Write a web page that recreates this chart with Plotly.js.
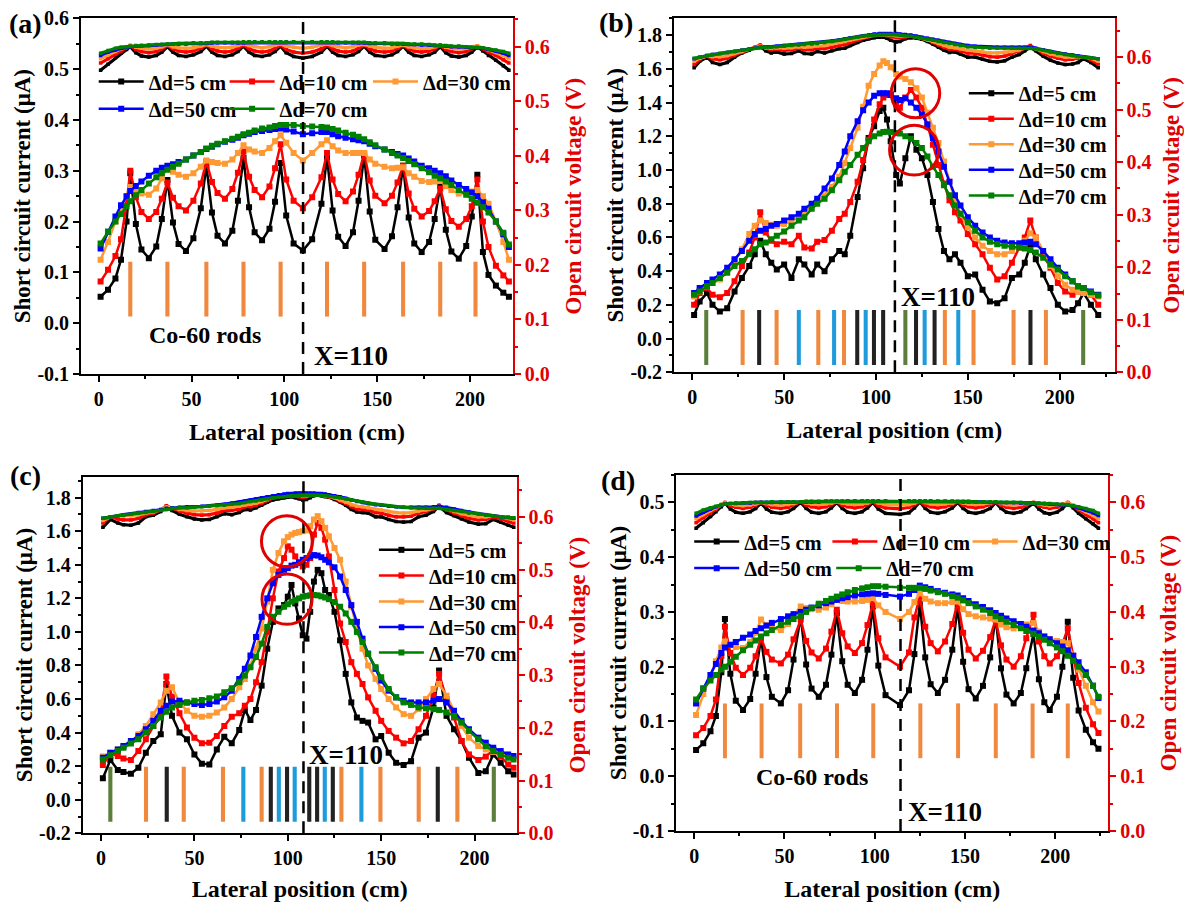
<!DOCTYPE html>
<html><head><meta charset="utf-8">
<script src="https://cdn.plot.ly/plotly-3.0.1.min.js"></script>
<style>html,body{margin:0;padding:0;background:#fff}#chart{width:1184px;height:902px}</style>
</head><body><div id="chart"></div>
<script>
const seriesNames = ['Δd=5 cm','Δd=10 cm','Δd=30 cm','Δd=50 cm','Δd=70 cm'];
const seriesColors = ['#000000','#ff0000','#ff9933','#0000ff','#008000'];
const rodColorMap = {o:'#f0883e', k:'#222222', b:'#1e9bdb', g:'#5b7f3b'};
const xTickVals = [0,50,100,150,200];
const xTickText = ['0','50','100','150','200'];
const yTicksA = [-0.1,0,0.1,0.2,0.3,0.4,0.5,0.6];
const yTicksB = [-0.2,0,0.2,0.4,0.6,0.8,1.0,1.2,1.4,1.6,1.8];
const yTicksR = [0,0.1,0.2,0.3,0.4,0.5,0.6];
const markerX = [110.1, 110.3, 108.4, 114.3];

// ---------- Panel (a) ----------
const xA = [1,5,9,12,15, 17,20,23,27,31,34, 37,40,43,47,51,55, 58,61,64,68,72,75, 78,81,84,88,92,95, 98,101,105,110,115,120, 123,126,129,133,137,140, 143,146,149,154,158,161, 164,167,170,174,178,181, 184,187,190,194,198,201, 204,207,210,214,218,221];
const iscA_5 = [0.052,0.066,0.088,0.125,0.2, 0.295,0.195,0.145,0.128,0.151,0.205, 0.282,0.198,0.156,0.142,0.167,0.226, 0.31,0.218,0.172,0.157,0.182,0.241, 0.325,0.228,0.179,0.163,0.186,0.239, 0.315,0.212,0.157,0.143,0.165,0.235, 0.327,0.222,0.17,0.152,0.179,0.241, 0.33,0.22,0.164,0.146,0.171,0.228, 0.31,0.208,0.157,0.14,0.16,0.205, 0.27,0.184,0.141,0.127,0.152,0.21, 0.292,0.14,0.095,0.074,0.06,0.052];
const iscA_10 = [0.082,0.105,0.132,0.165,0.235, 0.3,0.248,0.219,0.205,0.219,0.245, 0.277,0.247,0.23,0.222,0.241,0.275, 0.318,0.278,0.256,0.245,0.264,0.296, 0.338,0.288,0.262,0.248,0.269,0.305, 0.352,0.283,0.241,0.226,0.248,0.287, 0.335,0.283,0.254,0.24,0.259,0.292, 0.335,0.281,0.251,0.236,0.251,0.277, 0.31,0.255,0.225,0.21,0.221,0.24, 0.265,0.224,0.201,0.19,0.205,0.23, 0.283,0.2,0.15,0.113,0.094,0.082];
const iscA_30 = [0.125,0.16,0.2,0.225,0.25, 0.268,0.26,0.255,0.253,0.265,0.285, 0.308,0.298,0.292,0.288,0.295,0.308, 0.32,0.317,0.315,0.314,0.322,0.335, 0.35,0.342,0.338,0.335,0.345,0.358, 0.37,0.355,0.335,0.32,0.335,0.352, 0.36,0.348,0.34,0.335,0.335,0.335, 0.335,0.322,0.314,0.308,0.305,0.306, 0.307,0.295,0.288,0.28,0.278,0.279, 0.28,0.27,0.262,0.255,0.256,0.259, 0.262,0.25,0.235,0.2,0.16,0.125];
const iscA_50 = [0.147,0.18,0.21,0.232,0.25, 0.26,0.27,0.279,0.29,0.3,0.306, 0.31,0.313,0.317,0.322,0.33,0.337, 0.343,0.347,0.352,0.357,0.361,0.365, 0.37,0.373,0.376,0.378,0.38,0.382, 0.383,0.381,0.377,0.372,0.374,0.376, 0.376,0.372,0.368,0.365,0.362,0.36, 0.358,0.353,0.348,0.342,0.337,0.333, 0.33,0.324,0.318,0.31,0.305,0.3, 0.295,0.289,0.281,0.272,0.264,0.257, 0.25,0.238,0.225,0.2,0.175,0.15];
const iscA_70 = [0.157,0.18,0.2,0.215,0.23, 0.24,0.252,0.262,0.275,0.287,0.295, 0.302,0.308,0.314,0.322,0.33,0.337, 0.344,0.349,0.353,0.358,0.363,0.367, 0.372,0.375,0.379,0.383,0.385,0.388, 0.39,0.39,0.39,0.388,0.387,0.386, 0.385,0.382,0.379,0.375,0.371,0.367, 0.362,0.356,0.35,0.342,0.335,0.33, 0.325,0.319,0.313,0.305,0.297,0.29, 0.285,0.279,0.272,0.262,0.253,0.245, 0.237,0.228,0.218,0.2,0.178,0.155];
const vocA_5 = [0.557,0.568,0.58,0.588,0.595, 0.6,0.589,0.583,0.581,0.584,0.59, 0.6,0.59,0.584,0.582,0.585,0.591, 0.601,0.59,0.584,0.582,0.585,0.591, 0.601,0.59,0.584,0.582,0.585,0.591, 0.601,0.589,0.582,0.579,0.582,0.59, 0.601,0.59,0.584,0.582,0.585,0.591, 0.601,0.59,0.584,0.582,0.585,0.591, 0.601,0.59,0.584,0.582,0.585,0.59, 0.6,0.589,0.583,0.581,0.584,0.59, 0.6,0.592,0.584,0.575,0.565,0.557];
const vocA_10 = [0.57,0.578,0.586,0.592,0.598, 0.602,0.595,0.591,0.589,0.591,0.596, 0.602,0.596,0.592,0.59,0.592,0.597, 0.603,0.596,0.592,0.59,0.592,0.597, 0.603,0.596,0.592,0.59,0.592,0.597, 0.603,0.595,0.59,0.588,0.59,0.596, 0.603,0.596,0.592,0.59,0.592,0.597, 0.603,0.596,0.592,0.59,0.592,0.597, 0.602,0.596,0.592,0.59,0.592,0.596, 0.602,0.595,0.591,0.589,0.591,0.596, 0.601,0.596,0.59,0.584,0.576,0.57];
const vocA_30 = [0.578,0.585,0.591,0.596,0.6, 0.602,0.599,0.597,0.596,0.597,0.6, 0.603,0.6,0.598,0.597,0.598,0.601, 0.604,0.601,0.599,0.598,0.599,0.602, 0.605,0.602,0.6,0.598,0.6,0.603, 0.605,0.601,0.599,0.597,0.599,0.603, 0.605,0.602,0.6,0.598,0.6,0.603, 0.604,0.601,0.599,0.597,0.598,0.601, 0.603,0.6,0.598,0.597,0.597,0.6, 0.602,0.599,0.597,0.596,0.597,0.6, 0.601,0.598,0.594,0.59,0.584,0.578];
const vocA_50 = [0.584,0.59,0.594,0.597,0.599, 0.6,0.601,0.602,0.602,0.603,0.604, 0.604,0.605,0.605,0.605,0.606,0.606, 0.606,0.607,0.607,0.607,0.607,0.607, 0.607,0.608,0.608,0.608,0.608,0.608, 0.608,0.608,0.608,0.608,0.608,0.608, 0.608,0.608,0.607,0.607,0.607,0.607, 0.607,0.606,0.606,0.606,0.605,0.605, 0.605,0.604,0.604,0.603,0.603,0.602, 0.602,0.601,0.6,0.6,0.599,0.598, 0.598,0.597,0.595,0.592,0.588,0.584];
const vocA_70 = [0.588,0.593,0.597,0.599,0.6, 0.601,0.602,0.602,0.603,0.604,0.604, 0.605,0.605,0.606,0.606,0.607,0.607, 0.607,0.608,0.608,0.608,0.608,0.608, 0.609,0.609,0.609,0.609,0.609,0.609, 0.609,0.609,0.609,0.609,0.609,0.609, 0.609,0.609,0.608,0.608,0.608,0.608, 0.608,0.607,0.607,0.607,0.606,0.606, 0.606,0.605,0.605,0.605,0.604,0.603, 0.603,0.602,0.601,0.601,0.6,0.599, 0.599,0.598,0.596,0.594,0.591,0.588];
const rodsA_x = [17,37,58,78,98,123,143,164,184,203];
const rodsA_c = ['o','o','o','o','o','o','o','o','o','o'];
const rodSpanA = [0.013, 0.121];

// ---------- Panel (b) ----------
const xB = [1,4,8,11,15,19,23,27,31,34,37,40,43,46,50,54,58,61,65,68,72,76,80,83,86,90,93,96,99,102,104,106,108,111,113,116,119,122,125,128,131,134,137,140,143,146,150,154,158,162,166,170,174,178,181,184,187,191,195,199,203,207,210,213,217,221];
const iscB_5 = [0.14,0.22,0.27,0.2,0.16, 0.18,0.28,0.36,0.43,0.5, 0.58,0.5,0.45,0.41,0.44, 0.36,0.47,0.44,0.38,0.44, 0.4,0.47,0.52,0.5,0.61, 0.84,1.01,1.19,1.26,1.35, 1.37,1.3,1.17,0.97,0.92, 1.07,1.2,1.12,1.07,0.97, 0.81,0.65,0.52,0.47,0.5, 0.45,0.37,0.38,0.29,0.22, 0.21,0.24,0.36,0.38,0.45, 0.55,0.47,0.38,0.3,0.2, 0.16,0.17,0.21,0.27,0.2, 0.14];
const iscB_10 = [0.2,0.27,0.3,0.26,0.245, 0.27,0.34,0.43,0.51,0.6, 0.75,0.63,0.58,0.56,0.575, 0.56,0.61,0.54,0.535,0.575, 0.585,0.64,0.71,0.74,0.81, 0.93,1.06,1.18,1.3,1.39, 1.43,1.445,1.45,1.39,1.37, 1.43,1.475,1.43,1.37,1.27, 1.15,1.03,0.92,0.82,0.75, 0.7,0.62,0.56,0.5,0.42, 0.35,0.37,0.45,0.54,0.6, 0.7,0.6,0.5,0.42,0.33, 0.28,0.26,0.28,0.3,0.26, 0.2];
const iscB_30 = [0.25,0.28,0.31,0.33,0.35, 0.4,0.46,0.53,0.62,0.67, 0.7,0.685,0.675,0.67,0.68, 0.7,0.72,0.75,0.79,0.82, 0.85,0.9,0.96,1.04,1.13, 1.25,1.375,1.5,1.57,1.62, 1.645,1.635,1.61,1.57,1.555, 1.54,1.52,1.485,1.43,1.34, 1.25,1.16,1.05,0.93,0.82, 0.74,0.66,0.6,0.55,0.52, 0.5,0.5,0.52,0.55,0.58, 0.625,0.6,0.52,0.43,0.37, 0.32,0.29,0.28,0.27,0.26, 0.25];
const iscB_50 = [0.27,0.3,0.33,0.35,0.38, 0.42,0.47,0.52,0.58,0.62, 0.64,0.65,0.67,0.68,0.7, 0.72,0.74,0.77,0.8,0.83, 0.89,0.95,1.03,1.11,1.2, 1.29,1.355,1.4,1.44,1.455, 1.455,1.455,1.445,1.425,1.415, 1.425,1.4,1.37,1.33,1.27, 1.19,1.11,1.02,0.93,0.85, 0.79,0.72,0.67,0.63,0.6, 0.58,0.57,0.565,0.565,0.57, 0.575,0.56,0.52,0.47,0.42, 0.38,0.34,0.31,0.3,0.28, 0.26];
const iscB_70 = [0.26,0.28,0.31,0.33,0.36, 0.39,0.43,0.46,0.5,0.53, 0.56,0.57,0.59,0.61,0.635, 0.67,0.7,0.72,0.77,0.8, 0.83,0.88,0.94,0.99,1.03, 1.09,1.13,1.17,1.2,1.217, 1.225,1.227,1.225,1.22,1.217, 1.2,1.185,1.16,1.13,1.08, 1.02,0.97,0.91,0.85,0.79, 0.74,0.69,0.64,0.6,0.575, 0.56,0.55,0.545,0.54,0.535, 0.525,0.51,0.48,0.44,0.41, 0.37,0.34,0.31,0.3,0.275, 0.255];
const vocB_5 = [0.58,0.592,0.6,0.59,0.586, 0.59,0.6,0.608,0.613,0.618, 0.621,0.612,0.608,0.61,0.606, 0.607,0.612,0.607,0.606,0.611, 0.608,0.612,0.616,0.617,0.622, 0.628,0.632,0.635,0.637,0.638, 0.638,0.636,0.632,0.629,0.63, 0.635,0.637,0.636,0.634,0.63, 0.625,0.619,0.613,0.609,0.61, 0.606,0.6,0.6,0.596,0.592, 0.591,0.593,0.6,0.605,0.612, 0.619,0.612,0.602,0.594,0.589, 0.586,0.587,0.59,0.597,0.59, 0.58];
const vocB_10 = [0.586,0.596,0.602,0.597,0.595, 0.598,0.604,0.61,0.615,0.619, 0.623,0.617,0.614,0.615,0.613, 0.614,0.617,0.614,0.614,0.617, 0.616,0.619,0.622,0.624,0.628, 0.633,0.636,0.639,0.641,0.642, 0.642,0.641,0.639,0.637,0.637, 0.639,0.64,0.639,0.637,0.633, 0.628,0.623,0.619,0.615,0.615, 0.612,0.608,0.607,0.604,0.601, 0.6,0.602,0.607,0.612,0.617, 0.622,0.616,0.608,0.602,0.598, 0.595,0.596,0.598,0.601,0.595, 0.587];
const vocB_30 = [0.592,0.598,0.602,0.601,0.601, 0.603,0.607,0.611,0.615,0.618, 0.621,0.618,0.617,0.618,0.617, 0.618,0.62,0.619,0.62,0.622, 0.622,0.625,0.628,0.63,0.633, 0.636,0.638,0.64,0.642,0.643, 0.643,0.643,0.642,0.641,0.641, 0.641,0.64,0.638,0.636,0.633, 0.63,0.626,0.622,0.619,0.618, 0.616,0.613,0.612,0.61,0.608, 0.608,0.609,0.611,0.614,0.617, 0.62,0.616,0.611,0.606,0.603, 0.6,0.6,0.6,0.601,0.598, 0.592];
const vocB_50 = [0.597,0.6,0.603,0.605,0.607, 0.609,0.611,0.613,0.615,0.617, 0.619,0.62,0.62,0.621,0.622, 0.623,0.624,0.625,0.626,0.627, 0.629,0.631,0.633,0.635,0.637, 0.639,0.641,0.642,0.644,0.645, 0.645,0.645,0.645,0.645,0.644, 0.643,0.642,0.64,0.638,0.636, 0.634,0.632,0.63,0.628,0.626, 0.624,0.622,0.621,0.62,0.619, 0.619,0.619,0.619,0.619,0.619, 0.619,0.617,0.614,0.611,0.608, 0.606,0.604,0.602,0.601,0.599, 0.597];
const vocB_70 = [0.598,0.6,0.603,0.605,0.607, 0.609,0.611,0.613,0.615,0.617, 0.618,0.619,0.619,0.62,0.621, 0.622,0.623,0.624,0.625,0.626, 0.628,0.63,0.632,0.634,0.636, 0.638,0.64,0.641,0.642,0.643, 0.643,0.643,0.643,0.643,0.642, 0.641,0.64,0.638,0.636,0.634, 0.632,0.63,0.628,0.626,0.624, 0.622,0.62,0.619,0.618,0.617, 0.617,0.617,0.617,0.617,0.617, 0.617,0.616,0.613,0.61,0.607, 0.605,0.603,0.601,0.6,0.599, 0.597];
const rodsB_x = [7.6,27.4,36.4,45.9,58,68.6,77.2,82.6,89.8,94.4,98.9,103.9,116,121.8,126.5,131.9,137.5,144.8,153.1,174.9,184.1,192.5,212.8];
const rodsB_c = ['g','o','k','o','b','o','b','o','k','b','k','k','g','k','b','k','o','b','o','o','k','o','g'];
const rodSpanB = [-0.157, 0.17];

// ---------- Panel (c) ----------
const xC = [1,5,9,12,16,20,24,28,32,35,38,42,46,50,54,58,62,66,70,74,77,80,83,86,89,92,95,98,100,102,104,106,108,110,112,114,116,118,120,122,125,128,131,134,137,140,143,147,150,154,158,162,166,170,174,178,181,185,189,193,197,202,206,210,214,218,221];
const iscC_5 = [0.128,0.237,0.177,0.165,0.155, 0.19,0.28,0.35,0.39,0.69, 0.5,0.4,0.36,0.27,0.215, 0.21,0.3,0.375,0.336,0.416, 0.535,0.475,0.535,0.68,0.9, 1.06,1.14,1.16,1.21,1.28, 1.17,1.08,0.98,0.96,1.12, 1.3,1.37,1.35,1.25,1.22, 1.12,0.95,0.75,0.58,0.49, 0.47,0.46,0.36,0.38,0.28, 0.22,0.207,0.23,0.37,0.4, 0.55,0.77,0.5,0.42,0.35, 0.25,0.16,0.17,0.27,0.22, 0.17,0.15];
const iscC_10 = [0.207,0.277,0.26,0.245,0.237, 0.29,0.36,0.44,0.515,0.734, 0.614,0.515,0.43,0.37,0.336, 0.34,0.38,0.44,0.495,0.515, 0.56,0.6,0.7,0.82,1.0, 1.2,1.36,1.44,1.51,1.49, 1.45,1.41,1.39,1.4,1.44, 1.58,1.65,1.62,1.55,1.45, 1.25,1.05,0.94,0.82,0.75, 0.69,0.61,0.53,0.47,0.41, 0.37,0.336,0.35,0.42,0.5, 0.62,0.75,0.6,0.49,0.35, 0.27,0.237,0.257,0.297,0.257, 0.21,0.19];
const iscC_30 = [0.257,0.28,0.3,0.315,0.34, 0.39,0.44,0.51,0.58,0.65, 0.67,0.58,0.53,0.5,0.495, 0.5,0.52,0.55,0.6,0.67, 0.72,0.8,0.9,1.02,1.18, 1.37,1.47,1.54,1.565,1.58, 1.59,1.595,1.6,1.605,1.63, 1.67,1.69,1.66,1.62,1.57, 1.5,1.43,1.3,1.15,1.02, 0.9,0.8,0.72,0.66,0.6, 0.55,0.51,0.5,0.54,0.6, 0.66,0.69,0.62,0.53,0.44, 0.37,0.32,0.3,0.285,0.275, 0.26,0.25];
const iscC_50 = [0.25,0.28,0.3,0.32,0.35, 0.38,0.42,0.47,0.53,0.56, 0.585,0.59,0.58,0.57,0.565, 0.57,0.585,0.61,0.65,0.72, 0.78,0.86,0.97,1.09,1.2, 1.29,1.34,1.37,1.38,1.395, 1.4,1.415,1.43,1.44,1.45, 1.458,1.455,1.445,1.43,1.415, 1.385,1.33,1.25,1.16,1.06, 0.96,0.87,0.78,0.71,0.65, 0.61,0.59,0.58,0.58,0.58, 0.59,0.6,0.58,0.53,0.47, 0.42,0.37,0.34,0.31,0.29, 0.27,0.26];
const iscC_70 = [0.24,0.265,0.29,0.31,0.335, 0.36,0.4,0.44,0.49,0.525, 0.55,0.565,0.58,0.59,0.595, 0.605,0.615,0.64,0.665,0.7, 0.74,0.79,0.85,0.93,1.03, 1.09,1.12,1.15,1.165,1.18, 1.19,1.2,1.21,1.215,1.218, 1.22,1.218,1.212,1.205,1.195, 1.178,1.15,1.11,1.06,1.0, 0.94,0.87,0.79,0.73,0.66, 0.61,0.58,0.565,0.55,0.545, 0.54,0.535,0.52,0.5,0.46, 0.41,0.36,0.32,0.29,0.27, 0.25,0.24];
const vocC_5 = [0.58,0.595,0.588,0.585,0.584, 0.588,0.6,0.603,0.61,0.62, 0.612,0.605,0.6,0.596,0.594, 0.595,0.6,0.606,0.604,0.608, 0.614,0.613,0.617,0.622,0.628, 0.632,0.634,0.636,0.637,0.638, 0.636,0.634,0.632,0.633,0.636, 0.64,0.641,0.64,0.638,0.637, 0.633,0.628,0.622,0.614,0.609, 0.608,0.607,0.6,0.6,0.595, 0.591,0.59,0.591,0.6,0.603, 0.61,0.62,0.608,0.602,0.596, 0.59,0.586,0.587,0.595,0.59, 0.584,0.58];
const vocC_10 = [0.588,0.6,0.596,0.594,0.594, 0.597,0.604,0.607,0.613,0.621, 0.616,0.611,0.607,0.604,0.603, 0.604,0.607,0.612,0.612,0.615, 0.619,0.619,0.622,0.626,0.631, 0.635,0.637,0.639,0.64,0.64, 0.639,0.638,0.637,0.638,0.64, 0.642,0.642,0.641,0.64,0.638, 0.635,0.63,0.625,0.619,0.615, 0.614,0.613,0.608,0.607,0.603, 0.6,0.6,0.601,0.607,0.61, 0.615,0.622,0.613,0.607,0.602, 0.597,0.594,0.595,0.6,0.596, 0.592,0.588];
const vocC_30 = [0.593,0.6,0.601,0.601,0.602, 0.604,0.607,0.609,0.614,0.619, 0.617,0.614,0.612,0.611,0.611, 0.612,0.614,0.617,0.618,0.62, 0.623,0.624,0.626,0.629,0.633, 0.637,0.639,0.64,0.641,0.641, 0.641,0.641,0.64,0.64,0.641, 0.642,0.642,0.641,0.64,0.639, 0.636,0.632,0.628,0.623,0.62, 0.619,0.617,0.614,0.613,0.61, 0.608,0.607,0.608,0.611,0.613, 0.616,0.62,0.615,0.61,0.606, 0.603,0.6,0.6,0.602,0.6, 0.597,0.594];
const vocC_50 = [0.597,0.6,0.602,0.604,0.606, 0.608,0.61,0.612,0.614,0.616, 0.617,0.618,0.619,0.619,0.62, 0.621,0.622,0.624,0.626,0.628, 0.63,0.632,0.634,0.636,0.638, 0.64,0.642,0.643,0.644,0.644, 0.645,0.645,0.645,0.645,0.645, 0.645,0.644,0.644,0.643,0.642, 0.64,0.638,0.635,0.632,0.629, 0.627,0.625,0.623,0.622,0.62, 0.619,0.618,0.618,0.618,0.618, 0.619,0.62,0.618,0.615,0.612, 0.609,0.606,0.604,0.602,0.6, 0.599,0.597];
const vocC_70 = [0.597,0.6,0.602,0.603,0.605, 0.607,0.608,0.61,0.612,0.614, 0.616,0.617,0.617,0.618,0.619, 0.62,0.621,0.622,0.624,0.625, 0.627,0.629,0.63,0.632,0.634, 0.636,0.637,0.638,0.639,0.64, 0.64,0.641,0.641,0.641,0.641, 0.641,0.641,0.641,0.64,0.639, 0.638,0.636,0.634,0.632,0.63, 0.628,0.626,0.624,0.623,0.621, 0.619,0.618,0.617,0.616,0.616, 0.616,0.616,0.614,0.612,0.61, 0.607,0.605,0.603,0.601,0.6, 0.599,0.598];
const rodsC_x = [5,24.1,35.2,44.3,65.3,76.2,86,90.9,95.2,99.6,103.7,111.5,115.7,119.8,124.1,128.7,139.4,149.6,170.1,180.3,190.8,210.3];
const rodsC_c = ['g','o','k','o','o','b','o','k','b','k','b','k','k','b','k','o','b','o','o','k','o','g'];
const rodSpanC = [-0.131, 0.197];

// ---------- Panel (d) ----------
const xD = [1,5,9,12,15, 17,20,23,27,31,34, 37,40,43,48,52,55, 59,62,65,69,73,76, 79,82,85,89,93,96, 99,102,106,114,119,122, 125,128,131,135,139,143, 146,149,152,156,160,164, 167,170,173,177,181,184, 188,191,194,197,201,204, 207,210,213,217,221,224];
const iscD_5 = [0.048,0.06,0.082,0.11,0.19, 0.287,0.187,0.138,0.121,0.141,0.187, 0.252,0.181,0.145,0.133,0.157,0.213, 0.292,0.204,0.16,0.145,0.167,0.222, 0.298,0.21,0.167,0.152,0.176,0.231, 0.31,0.202,0.148,0.13,0.157,0.223, 0.315,0.217,0.168,0.152,0.176,0.231, 0.31,0.209,0.159,0.142,0.165,0.217, 0.292,0.197,0.149,0.133,0.152,0.197, 0.26,0.177,0.135,0.121,0.145,0.2, 0.282,0.18,0.12,0.085,0.062,0.05];
const iscD_10 = [0.075,0.088,0.11,0.14,0.22, 0.273,0.225,0.198,0.185,0.198,0.219, 0.252,0.227,0.213,0.206,0.222,0.25, 0.286,0.247,0.226,0.215,0.233,0.264, 0.304,0.261,0.237,0.225,0.243,0.276, 0.316,0.252,0.217,0.2,0.226,0.29, 0.328,0.273,0.243,0.228,0.246,0.278, 0.319,0.262,0.231,0.215,0.229,0.254, 0.286,0.239,0.213,0.2,0.219,0.252, 0.295,0.246,0.219,0.206,0.219,0.241, 0.27,0.22,0.17,0.125,0.095,0.079];
const iscD_30 = [0.112,0.15,0.185,0.21,0.235, 0.246,0.24,0.236,0.234,0.245,0.262, 0.286,0.276,0.27,0.267,0.278,0.293, 0.31,0.307,0.305,0.304,0.308,0.314, 0.322,0.32,0.319,0.319,0.32,0.322, 0.325,0.312,0.3,0.287,0.3,0.318, 0.334,0.324,0.319,0.316,0.316,0.318, 0.319,0.305,0.296,0.292,0.29,0.288, 0.286,0.277,0.272,0.27,0.273,0.277, 0.28,0.264,0.255,0.25,0.247,0.245, 0.243,0.22,0.195,0.165,0.135,0.118];
const iscD_50 = [0.133,0.16,0.185,0.205,0.225, 0.235,0.24,0.245,0.253,0.259,0.265, 0.27,0.275,0.28,0.287,0.292,0.296, 0.3,0.304,0.308,0.312,0.316,0.319, 0.322,0.325,0.327,0.33,0.332,0.333, 0.334,0.333,0.331,0.328,0.333,0.34, 0.348,0.345,0.342,0.338,0.335,0.332, 0.33,0.325,0.32,0.314,0.309,0.303, 0.298,0.293,0.288,0.283,0.278,0.273, 0.266,0.261,0.255,0.25,0.243,0.237, 0.23,0.22,0.208,0.19,0.165,0.143];
const iscD_70 = [0.14,0.16,0.175,0.185,0.195, 0.2,0.209,0.218,0.23,0.24,0.248, 0.255,0.261,0.267,0.276,0.282,0.287, 0.293,0.3,0.307,0.315,0.32,0.324, 0.328,0.332,0.336,0.34,0.343,0.345, 0.347,0.347,0.346,0.344,0.344,0.344, 0.344,0.342,0.339,0.336,0.333,0.329, 0.326,0.321,0.316,0.31,0.304,0.298, 0.292,0.287,0.282,0.276,0.27,0.265, 0.26,0.255,0.249,0.243,0.235,0.228, 0.22,0.211,0.2,0.185,0.165,0.145];
const vocD_5 = [0.553,0.563,0.574,0.583,0.592, 0.599,0.588,0.582,0.58,0.583,0.589, 0.599,0.588,0.582,0.58,0.583,0.589, 0.6,0.589,0.582,0.58,0.583,0.59, 0.6,0.589,0.582,0.58,0.583,0.59, 0.6,0.588,0.58,0.578,0.581,0.59, 0.601,0.589,0.582,0.58,0.583,0.59, 0.6,0.589,0.582,0.58,0.583,0.589, 0.6,0.589,0.582,0.58,0.583,0.589, 0.599,0.588,0.581,0.579,0.582,0.589, 0.599,0.59,0.58,0.57,0.561,0.553];
const vocD_10 = [0.563,0.572,0.58,0.587,0.595, 0.6,0.594,0.591,0.589,0.591,0.595, 0.6,0.595,0.591,0.589,0.591,0.596, 0.601,0.595,0.592,0.59,0.592,0.596, 0.601,0.595,0.592,0.59,0.592,0.596, 0.601,0.594,0.59,0.588,0.591,0.596, 0.601,0.595,0.592,0.59,0.592,0.596, 0.601,0.595,0.592,0.59,0.592,0.596, 0.6,0.595,0.591,0.589,0.591,0.595, 0.6,0.594,0.591,0.589,0.591,0.595, 0.6,0.593,0.586,0.578,0.57,0.563];
const vocD_30 = [0.57,0.578,0.585,0.59,0.596, 0.599,0.597,0.595,0.594,0.595,0.597, 0.6,0.598,0.596,0.595,0.596,0.598, 0.601,0.599,0.597,0.596,0.597,0.599, 0.601,0.599,0.597,0.596,0.597,0.599, 0.602,0.599,0.596,0.595,0.596,0.599, 0.602,0.6,0.597,0.596,0.597,0.599, 0.601,0.599,0.597,0.596,0.597,0.599, 0.601,0.598,0.596,0.595,0.596,0.598, 0.6,0.597,0.595,0.594,0.595,0.597, 0.599,0.595,0.589,0.583,0.576,0.57];
const vocD_50 = [0.575,0.582,0.588,0.592,0.595, 0.597,0.598,0.598,0.599,0.599,0.6, 0.6,0.6,0.6,0.6,0.601,0.601, 0.601,0.601,0.601,0.601,0.602,0.602, 0.602,0.602,0.602,0.602,0.602,0.602, 0.602,0.602,0.602,0.602,0.602,0.602, 0.602,0.602,0.602,0.602,0.602,0.602, 0.601,0.601,0.601,0.601,0.601,0.6, 0.6,0.6,0.6,0.6,0.599,0.599, 0.599,0.598,0.598,0.597,0.596,0.596, 0.595,0.593,0.59,0.586,0.581,0.576];
const vocD_70 = [0.58,0.586,0.59,0.593,0.596, 0.597,0.598,0.599,0.599,0.6,0.6, 0.6,0.6,0.601,0.601,0.601,0.601, 0.601,0.602,0.602,0.602,0.602,0.602, 0.602,0.602,0.603,0.603,0.603,0.603, 0.603,0.603,0.603,0.603,0.603,0.603, 0.603,0.603,0.603,0.602,0.602,0.602, 0.602,0.602,0.602,0.601,0.601,0.601, 0.601,0.6,0.6,0.6,0.6,0.599, 0.599,0.599,0.598,0.598,0.597,0.596, 0.596,0.594,0.592,0.589,0.585,0.58];
const rodsD_x = [17,37.3,58.7,79.1,99.2,125.3,146.2,167.1,187.5,207];
const rodsD_c = ['o','o','o','o','o','o','o','o','o','o'];
const rodSpanD = [0.033, 0.133];

// ---------- build ----------
const FONT = 'Liberation Serif, Times New Roman, Times, serif';
const W = 1184, H = 902;
const panels = [
  {x:xA, isc:[iscA_5,iscA_10,iscA_30,iscA_50,iscA_70], voc:[vocA_5,vocA_10,vocA_30,vocA_50,vocA_70], rx:rodsA_x, rc:rodsA_c, rs:rodSpanA, xa:'x', ya:'y', yr:'y5',
   leg:[[98.7,81.7],[229.6,81.7],[373,81.7],[98.7,109],[229.6,109]]},
  {x:xB, isc:[iscB_5,iscB_10,iscB_30,iscB_50,iscB_70], voc:[vocB_5,vocB_10,vocB_30,vocB_50,vocB_70], rx:rodsB_x, rc:rodsB_c, rs:rodSpanB, xa:'x2', ya:'y2', yr:'y6',
   leg:[[968.8,93.3],[968.8,119],[968.8,144.3],[968.8,170],[968.8,195.7]]},
  {x:xC, isc:[iscC_5,iscC_10,iscC_30,iscC_50,iscC_70], voc:[vocC_5,vocC_10,vocC_30,vocC_50,vocC_70], rx:rodsC_x, rc:rodsC_c, rs:rodSpanC, xa:'x3', ya:'y3', yr:'y7',
   leg:[[378.9,550],[378.9,575.7],[378.9,601.7],[378.9,627.3],[378.9,652.7]]},
  {x:xD, isc:[iscD_5,iscD_10,iscD_30,iscD_50,iscD_70], voc:[vocD_5,vocD_10,vocD_30,vocD_50,vocD_70], rx:rodsD_x, rc:rodsD_c, rs:rodSpanD, xa:'x4', ya:'y4', yr:'y8',
   leg:[[694.2,541.7],[832.4,541.7],[972.6,541.7],[694.2,568.3],[836.2,568.3]]}
];

const traces = [];
const layout = {
  width: W, height: H, margin:{l:0,r:0,t:0,b:0},
  paper_bgcolor:'#ffffff', plot_bgcolor:'rgba(0,0,0,0)',
  showlegend:true, hovermode:false,
  font:{family:FONT, color:'#000'},
  shapes:[], annotations:[]
};
let legIdx = 1;
panels.forEach((p, pi) => {
  traces.push({type:'bar', x:p.rx, y:p.rx.map(()=>p.rs[1]-p.rs[0]), base:p.rs[0], width:2.2,
    marker:{color:p.rc.map(c=>rodColorMap[c]), line:{width:0}}, xaxis:p.xa, yaxis:p.ya, showlegend:false});
  p.isc.forEach((ys, si) => {
    const lname = legIdx === 1 ? 'legend' : 'legend' + legIdx;
    const pos = p.leg[si];
    layout[lname] = {x:(pos[0]-5)/W, y:1-pos[1]/H, xanchor:'left', yanchor:'middle', bgcolor:'rgba(0,0,0,0)',
      borderwidth:0, itemwidth:45, font:{family:FONT, size:20.5, color:'#000', weight:'bold'}};
    traces.push({type:'scatter', mode:'lines+markers', name:seriesNames[si], x:p.x, y:ys, xaxis:p.xa, yaxis:p.ya,
      line:{color:seriesColors[si], width:2.5}, marker:{symbol:'square', size:6, color:seriesColors[si]},
      legend:lname, showlegend:true});
    legIdx++;
  });
  p.voc.forEach((ys, si) => {
    traces.push({type:'scatter', mode:'lines+markers', name:seriesNames[si]+' Voc', x:p.x, y:ys, xaxis:p.xa, yaxis:p.yr,
      line:{color:seriesColors[si], width:3.2}, marker:{symbol:'square', size:3.5, color:seriesColors[si]}, showlegend:false});
  });
  layout.shapes.push({type:'line', xref:p.xa, yref:p.ya+' domain', x0:markerX[pi], x1:markerX[pi], y0:0, y1:1,
    line:{color:'#000', width:2.5, dash:'12px,8px'}});
});

const tickFont = {family:FONT, size:20, color:'#000', weight:'bold'};
const tickFontR = {family:FONT, size:20, color:'#e00000', weight:'bold'};
const titleFont = {family:FONT, size:24, color:'#000', weight:'bold'};
const titleFontY = {family:FONT, size:23, color:'#000', weight:'bold'};
const titleFontR = {family:FONT, size:23, color:'#e00000', weight:'bold'};

function xAxis(domain, range, anchor){
  return {domain, range, anchor, showline:true, linecolor:'#000', linewidth:2, mirror:true,
    ticks:'outside', ticklen:6, tickwidth:2, tickcolor:'#000', tickmode:'array', tickvals:xTickVals, ticktext:xTickText,
    minor:{tickmode:'linear', tick0:0, dtick:25, ticks:'outside', ticklen:3, tickwidth:2, tickcolor:'#000'},
    tickfont:tickFont, title:{text:'Lateral position (cm)', font:titleFont, standoff:14},
    showgrid:false, zeroline:false, fixedrange:true};
}
function yAxisL(domain, range, anchor, tv, minorD){
  return {domain, range, anchor, showline:true, linecolor:'#000', linewidth:2, mirror:false,
    ticks:'outside', ticklen:6, tickwidth:2, tickcolor:'#000', tickmode:'array', tickvals:tv, ticktext:tv.map(v=>v.toFixed(1)),
    minor:{tickmode:'linear', tick0:0, dtick:minorD, ticks:'outside', ticklen:3, tickwidth:2, tickcolor:'#000'},
    tickfont:tickFont, title:{text:'Short circuit current (μA)', font:titleFontY, standoff:0},
    showgrid:false, zeroline:false, fixedrange:true};
}
function yAxisR(over, range, anchor){
  return {overlaying:over, side:'right', range, anchor, showline:true, linecolor:'#e00000', linewidth:2,
    ticks:'outside', ticklen:6, tickwidth:2, tickcolor:'#e00000', tickmode:'array', tickvals:yTicksR, ticktext:yTicksR.map(v=>v.toFixed(1)),
    minor:{tickmode:'linear', tick0:0, dtick:0.05, ticks:'outside', ticklen:3, tickwidth:2, tickcolor:'#e00000'},
    tickfont:tickFontR, title:{text:'Open circuit voltage (V)', font:titleFontR, standoff:16},
    showgrid:false, zeroline:false, fixedrange:true};
}
layout.xaxis  = xAxis([81.1/W, 512.8/W], [-9.5, 223.1], 'y');
layout.xaxis2 = xAxis([674.1/W, 1114.6/W], [-9.9, 229.9], 'y2');
layout.xaxis3 = xAxis([82.7/W, 516.6/W], [-9.8, 222.5], 'y3');
layout.xaxis4 = xAxis([676.4/W, 1108.2/W], [-9.9, 229.4], 'y4');
layout.yaxis  = yAxisL([1-374/H, 1-18.3/H], [-0.1, 0.6], 'x', yTicksA, 0.05);
layout.yaxis2 = yAxisL([1-372.3/H, 1-18.3/H], [-0.2, 1.9], 'x2', yTicksB, 0.1);
layout.yaxis3 = yAxisL([1-833.3/H, 1-476.7/H], [-0.2, 1.925], 'x3', yTicksB, 0.1);
layout.yaxis4 = yAxisL([1-831/H, 1-475/H], [-0.1, 0.55], 'x4', yTicksA.slice(0,7), 0.05);
layout.yaxis5 = yAxisR('y', [0, 0.652], 'x');
layout.yaxis6 = yAxisR('y2', [0, 0.674], 'x2');
layout.yaxis7 = yAxisR('y3', [0, 0.676], 'x3');
layout.yaxis8 = yAxisR('y4', [0, 0.65], 'x4');

const circ = (xa, ya, cx, cy, rx, ry) => ({type:'circle', xref:xa, yref:ya, x0:cx-rx, x1:cx+rx, y0:cy-ry, y1:cy+ry, line:{color:'#e00000', width:3}});
layout.shapes.push(circ('x2','y2',121.5,1.455,13.2,0.145));
layout.shapes.push(circ('x2','y2',120.8,1.118,13.4,0.148));
layout.shapes.push(circ('x3','y3',99.5,1.54,13.6,0.152));
layout.shapes.push(circ('x3','y3',99.6,1.195,13.4,0.15));

const annFont = s => ({family:FONT, size:s, color:'#000', weight:'bold'});
const ann = (text, xref, yref, x, y, size) => ({text, xref, yref, x, y, xanchor:'center', yanchor:'middle', showarrow:false, font:annFont(size)});
layout.annotations.push(ann('(a)','paper','paper',25/W,1-23/H,28));
layout.annotations.push(ann('(b)','paper','paper',616/W,1-22/H,28));
layout.annotations.push(ann('(c)','paper','paper',25/W,1-475/H,28));
layout.annotations.push(ann('(d)','paper','paper',618/W,1-481/H,28));
layout.annotations.push(ann('Co-60 rods','x','y',57.5,-0.023,24));
layout.annotations.push(ann('X=110','x','y',135.9,-0.065,27));
layout.annotations.push(ann('X=110','x2','y2',133.5,0.248,27));
layout.annotations.push(ann('X=110','x3','y3',130.9,0.267,27));
layout.annotations.push(ann('Co-60 rods','x4','y4',65,-0.001,24));
layout.annotations.push(ann('X=110','x4','y4',139,-0.065,27));

Plotly.newPlot('chart', traces, layout, {staticPlot:true, displayModeBar:false});
</script></body></html>
